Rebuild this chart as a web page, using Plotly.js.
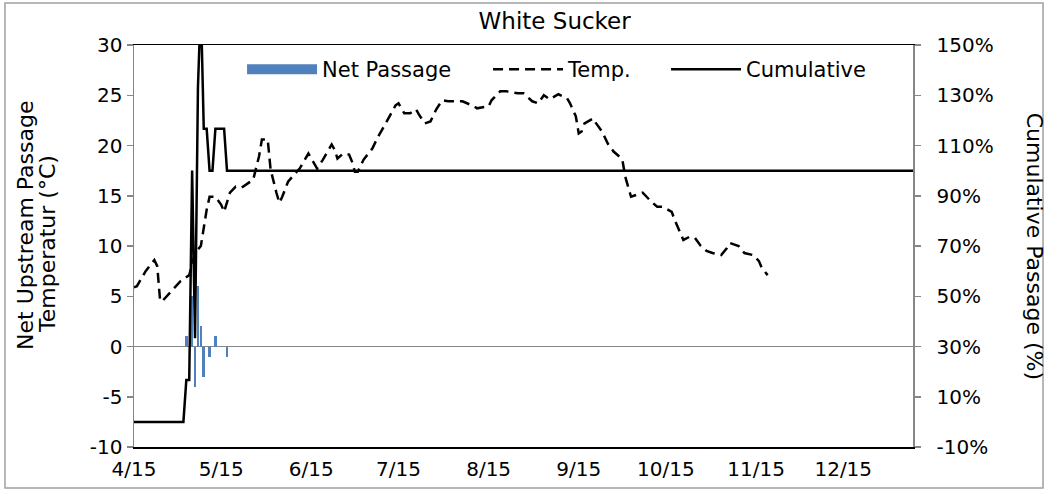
<!DOCTYPE html>
<html>
<head>
<meta charset="utf-8">
<script src="https://cdn.plot.ly/plotly-3.0.1.min.js"></script>
<style>
html,body{margin:0;padding:0;background:#fff;}
#chart{width:1049px;height:492px;}
</style>
</head>
<body>
<div id="chart"></div>
<script>
// Net upstream passage (daily counts)
const barDates = ["2013-05-03","2013-05-05","2013-05-06","2013-05-07","2013-05-08","2013-05-09","2013-05-11","2013-05-13","2013-05-17"];
const barValues = [1, 5, -4, 6, 2, -3, -1, 1, -1];

// Water temperature (°C)
const tempDates = ["2013-04-15","2013-04-16","2013-04-19","2013-04-22","2013-04-23","2013-04-24","2013-04-25","2013-04-28","2013-05-01","2013-05-04","2013-05-06","2013-05-08","2013-05-09","2013-05-10","2013-05-11","2013-05-13","2013-05-15","2013-05-16","2013-05-18","2013-05-20","2013-05-22","2013-05-26","2013-05-28","2013-05-29","2013-05-31","2013-06-01","2013-06-03","2013-06-04","2013-06-05","2013-06-07","2013-06-10","2013-06-11","2013-06-14","2013-06-16","2013-06-17","2013-06-19","2013-06-22","2013-06-23","2013-06-24","2013-06-26","2013-06-28","2013-06-29","2013-06-30","2013-07-01","2013-07-03","2013-07-06","2013-07-08","2013-07-10","2013-07-12","2013-07-14","2013-07-15","2013-07-17","2013-07-19","2013-07-21","2013-07-22","2013-07-24","2013-07-26","2013-07-28","2013-07-30","2013-08-01","2013-08-04","2013-08-06","2013-08-10","2013-08-11","2013-08-15","2013-08-16","2013-08-19","2013-08-21","2013-08-25","2013-08-27","2013-08-30","2013-09-01","2013-09-03","2013-09-05","2013-09-08","2013-09-11","2013-09-12","2013-09-14","2013-09-15","2013-09-16","2013-09-17","2013-09-20","2013-09-21","2013-09-23","2013-09-25","2013-09-27","2013-09-29","2013-09-30","2013-10-01","2013-10-03","2013-10-05","2013-10-07","2013-10-10","2013-10-12","2013-10-14","2013-10-17","2013-10-18","2013-10-20","2013-10-21","2013-10-23","2013-10-25","2013-10-27","2013-10-29","2013-10-31","2013-11-03","2013-11-05","2013-11-06","2013-11-09","2013-11-11","2013-11-14","2013-11-16","2013-11-17","2013-11-19"];
const tempValues = [5.9,6.0,7.5,8.6,8.0,4.5,4.6,5.6,6.5,7.1,9.3,10.0,11.9,13.6,14.9,14.9,14.1,13.4,15.3,15.9,15.8,16.6,18.9,20.6,20.6,17.6,15.3,14.3,14.9,16.4,17.4,17.7,19.2,18.2,17.7,18.6,20.1,19.6,18.7,19.2,19.1,18.4,17.4,17.4,18.6,19.7,20.9,21.9,22.9,24.0,24.2,23.2,23.2,23.6,23.1,22.2,22.4,23.6,24.5,24.4,24.4,24.4,23.9,23.7,23.9,24.5,25.4,25.4,25.2,25.2,24.4,24.2,25.0,24.6,25.1,24.7,24.2,22.9,21.2,21.4,22.2,22.7,22.2,21.4,20.2,19.4,18.9,18.6,16.9,14.9,15.1,15.3,14.4,13.9,13.9,13.4,12.6,11.3,10.6,10.9,10.8,10.0,9.5,9.3,9.1,9.8,10.3,10.0,9.3,9.1,8.5,7.8,7.1];

// Cumulative passage (fraction of total)
const cumDates = ["2013-04-15","2013-05-02","2013-05-03","2013-05-04","2013-05-05","2013-05-06","2013-05-07","2013-05-08","2013-05-09","2013-05-10","2013-05-11","2013-05-12","2013-05-13","2013-05-16","2013-05-17","2014-01-08"];
const cumValues = [0, 0, 0.167, 0.167, 1.0, 0.333, 1.333, 1.667, 1.167, 1.167, 1.0, 1.0, 1.167, 1.167, 1.0, 1.0];

// Axis tick labels
const xTickVals = ["2013-04-15","2013-05-15","2013-06-15","2013-07-15","2013-08-15","2013-09-15","2013-10-15","2013-11-15","2013-12-15"];
const xTickText = ["4/15","5/15","6/15","7/15","8/15","9/15","10/15","11/15","12/15"];
const yTickVals = [-10,-5,0,5,10,15,20,25,30];
const yTickText = ["-10","-5","0","5","10","15","20","25","30"];
const y2TickVals = [-0.1,0.1,0.3,0.5,0.7,0.9,1.1,1.3,1.5];
const y2TickText = ["-10%","10%","30%","50%","70%","90%","110%","130%","150%"];

const FONT = "DejaVu Sans, Verdana, sans-serif";
const GRAY = "#868686";
const DAY = 86400000;
const TICK = 20;

const traces = [
  {
    type: "bar", name: "Net Passage", x: barDates, y: barValues,
    width: barDates.map(() => 0.9 * DAY),
    marker: {color: "#4F81BD"}, yaxis: "y", legendwidth: 161
  },
  {
    type: "scatter", mode: "lines", name: "Temp.", x: tempDates, y: tempValues,
    line: {color: "#000", width: 2.5, dash: "10px,6px"}, yaxis: "y", legendwidth: 93
  },
  {
    type: "scatter", mode: "lines", name: "Cumulative", x: cumDates, y: cumValues,
    line: {color: "#000", width: 2.5}, yaxis: "y2", legendwidth: 130
  }
];

const layout = {
  width: 1049, height: 492,
  margin: {l: 134, r: 136, t: 45, b: 45, pad: 0},
  paper_bgcolor: "#fff", plot_bgcolor: "#fff",
  font: {family: FONT, size: TICK, color: "#000"},
  title: {text: "White Sucker", font: {family: FONT, size: 23, color: "#000"},
          x: 0.54, xref: "paper", xanchor: "center", y: 0.957, yref: "container", yanchor: "middle"},
  showlegend: true,
  legend: {orientation: "h", x: 0.1387, xanchor: "left", y: 0.99, yanchor: "top", itemwidth: 70,
           font: {family: FONT, size: 21, color: "#000"}, bgcolor: "rgba(0,0,0,0)", traceorder: "normal"},
  bargap: 0,
  xaxis: {
    type: "date", range: ["2013-04-15", "2014-01-08"],
    tickvals: xTickVals, ticktext: xTickText, ticks: "", ticklabelstandoff: 3,
    tickfont: {family: FONT, size: TICK, color: "#000"},
    showline: true, linecolor: "#000", linewidth: 1.5, mirror: true,
    showgrid: false, zeroline: false
  },
  yaxis: {
    range: [-10, 30], tickvals: yTickVals, ticktext: yTickText,
    ticks: "outside", ticklen: 6, tickcolor: GRAY, tickwidth: 1.5,
    tickfont: {family: FONT, size: TICK, color: "#000"},
    showline: true, linecolor: GRAY, linewidth: 1.5,
    zeroline: true, zerolinecolor: GRAY, zerolinewidth: 1.5,
    showgrid: false
  },
  yaxis2: {
    overlaying: "y", side: "right", range: [-0.1, 1.5],
    tickvals: y2TickVals, ticktext: y2TickText,
    ticks: "outside", ticklen: 6, tickcolor: GRAY, tickwidth: 1.5, ticklabelstandoff: 12,
    tickfont: {family: FONT, size: TICK, color: "#000"},
    showline: true, linecolor: GRAY, linewidth: 1.5,
    showgrid: false, zeroline: false
  },
  annotations: [
    {text: "Net Upstream Passage", textangle: -90, showarrow: false,
     xref: "paper", yref: "paper", x: -0.1386, y: 0.55, xanchor: "center", yanchor: "middle",
     font: {family: FONT, size: 22, color: "#000"}},
    {text: "Temperatur (°C)", textangle: -90, showarrow: false,
     xref: "paper", yref: "paper", x: -0.1104, y: 0.505, xanchor: "center", yanchor: "middle",
     font: {family: FONT, size: 22, color: "#000"}},
    {text: "Cumulative Passage (%)", textangle: 90, showarrow: false,
     xref: "paper", yref: "paper", x: 1.157, y: 0.5, xanchor: "center", yanchor: "middle",
     font: {family: FONT, size: 22, color: "#000"}}
  ],
  shapes: [
    {type: "rect", xref: "paper", yref: "paper", x0: -0.1656, x1: 1.1669, y0: -0.102, y1: 1.1045,
     line: {color: "#A0A0A0", width: 1.5}, fillcolor: "rgba(0,0,0,0)", layer: "below"}
  ]
};

Plotly.newPlot("chart", traces, layout, {displayModeBar: false, staticPlot: true}).then(function (gd) {
  // widen the bar legend swatch to match the wide Excel-style key
  const groups = gd.querySelectorAll(".legend .traces");
  if (groups.length) {
    groups[0].querySelectorAll(".legendpoints path").forEach(function (p) {
      p.setAttribute("d", "M35,5H-35V-5H35Z");
    });
  }
});
</script>
</body>
</html>
